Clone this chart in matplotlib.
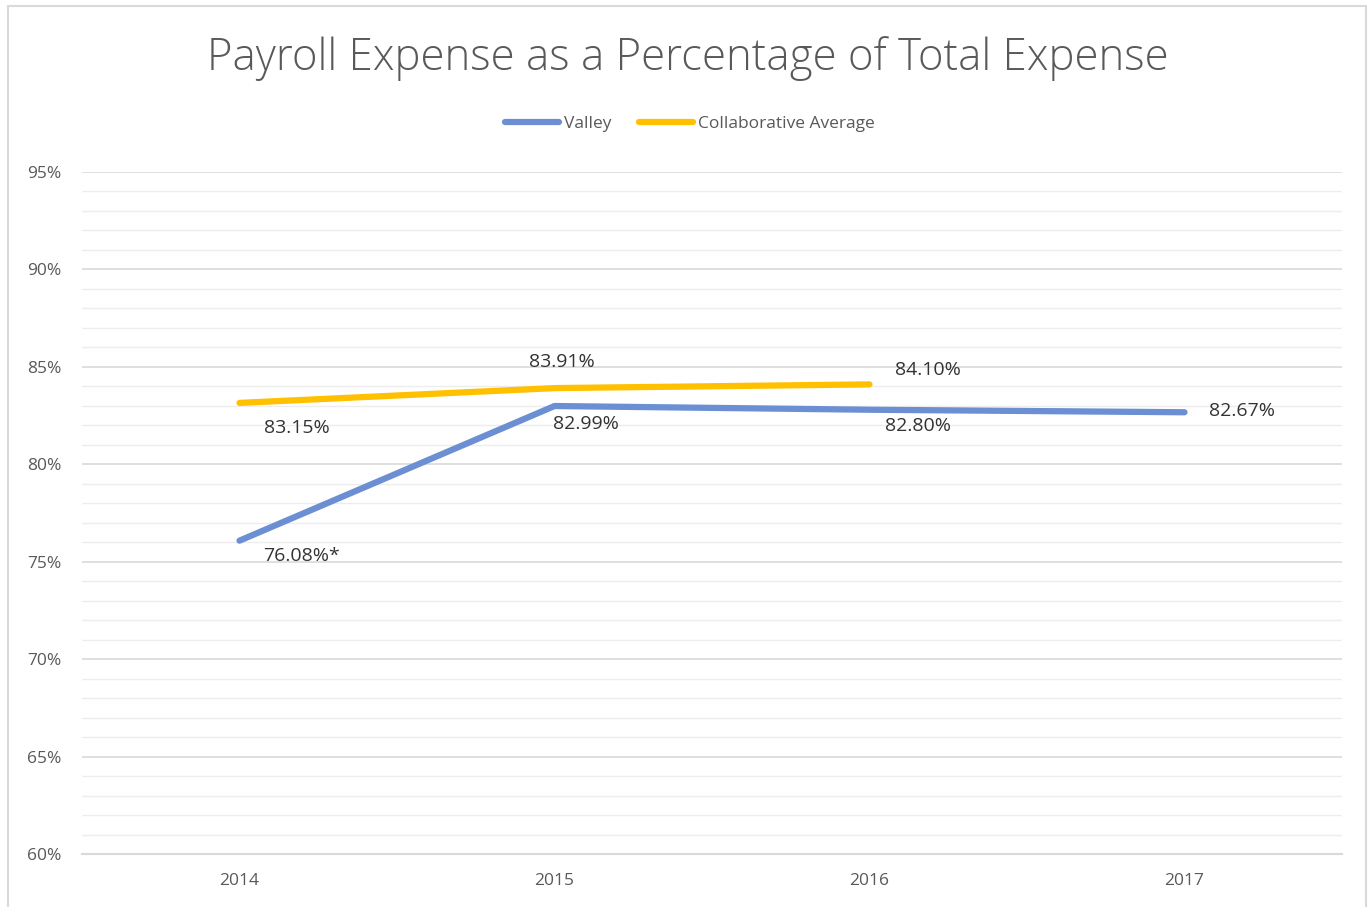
import matplotlib
matplotlib.use("Agg")
import matplotlib.pyplot as plt
from matplotlib.patches import Rectangle
from matplotlib.ticker import MultipleLocator, FuncFormatter

years = ["2014", "2015", "2016", "2017"]
valley = [76.08, 82.99, 82.80, 82.67]
collab = [83.15, 83.91, 84.10]
valley_labels = ["76.08%*", "82.99%", "82.80%", "82.67%"]
collab_labels = ["83.15%", "83.91%", "84.10%"]

BLUE = "#6b8fd2"
GOLD = "#ffc000"
GRID = "#d9d9d9"
MINOR = "#ededed"
TXT = "#595959"

plt.rcParams["font.family"] = ["Open Sans", "DejaVu Sans"]

fig = plt.figure(figsize=(13.72, 9.07), dpi=100)
fig.patches.append(Rectangle((8 / 1372, -0.01), 1358 / 1372, 1 - 6 / 907 + 0.01,
                             transform=fig.transFigure, fill=False,
                             edgecolor="#d9d9d9", linewidth=1.5))

ax = fig.add_axes([82 / 1372, 1 - 854 / 907, 1260 / 1372, 682 / 907])
x = list(range(len(years)))

ax.plot(x, valley, color=BLUE, linewidth=4.5, solid_capstyle="round", label="Valley", zorder=3)
ax.plot(x[:len(collab)], collab, color=GOLD, linewidth=4.5, solid_capstyle="round",
        label="Collaborative Average", zorder=3)

ax.set_xlim(-0.5, 3.5)
ax.set_ylim(60, 95)
ax.set_xticks(x)
ax.set_xticklabels(years)
ax.yaxis.set_major_locator(MultipleLocator(5))
ax.yaxis.set_minor_locator(MultipleLocator(1))
ax.yaxis.set_major_formatter(FuncFormatter(lambda v, p: f"{v:.0f}%"))
ax.grid(axis="y", which="major", color=GRID, linewidth=1.2, zorder=0)
ax.grid(axis="y", which="minor", color=MINOR, linewidth=1.0, zorder=0)
for s in ["top", "right", "left"]:
    ax.spines[s].set_visible(False)
ax.spines["bottom"].set_color(GRID)
ax.spines["bottom"].set_linewidth(1.5)
ax.tick_params(axis="both", which="both", length=0, labelcolor=TXT, labelsize=12.5)
ax.tick_params(axis="y", pad=15)
ax.tick_params(axis="x", pad=14)

lab_kw = dict(fontsize=14, color="#333333", zorder=4, textcoords="offset pixels",
              ha="center", va="center")
# Collaborative average labels (offsets in pixels from each point)
collab_off = [(57, -25), (7, 26), (58, 14)]
for xi, v, t, off in zip(x, collab, collab_labels, collab_off):
    ax.annotate(t, (xi, v), xytext=off, **lab_kw)
# Valley labels
valley_off = [(62, -15), (31, -18), (49, -16), (58, 1)]
for xi, v, t, off in zip(x, valley, valley_labels, valley_off):
    ax.annotate(t, (xi, v), xytext=off, **lab_kw)

fig.text(0.5015, 1 - 59 / 907, "Payroll Expense as a Percentage of Total Expense",
         ha="center", va="center", fontsize=31.5, color=TXT, fontweight="light")

fig.legend(loc="center", bbox_to_anchor=(0.503, 1 - 124 / 907), ncol=2, frameon=False,
           fontsize=12.5, labelcolor=TXT, handlelength=3.1, handletextpad=0.3,
           columnspacing=1.6)

fig.savefig("out.png", dpi=100, facecolor="white")
